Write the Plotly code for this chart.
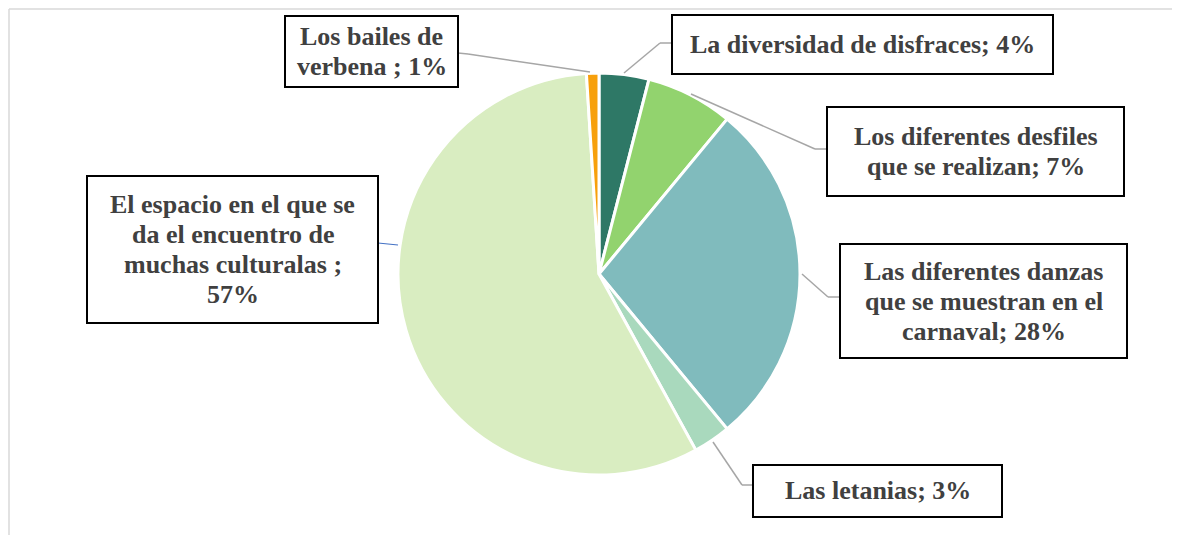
import plotly.graph_objects as go

W, H = 1180, 535
# the page body has an 8px margin, so the figure starts at (8, 8) in the window
OX, OY = 8, 8

# slices, clockwise from 12 o'clock
LABELS = [
    'La diversidad de disfraces',
    'Los diferentes desfiles que se realizan',
    'Las diferentes danzas que se muestran en el carnaval',
    'Las letanias',
    'El espacio en el que se da el encuentro de muchas culturalas ',
    'Los bailes de verbena ',
]
LABEL_LINES = [
    ['La diversidad de disfraces; {}%'],
    ['Los diferentes desfiles', 'que se realizan; {}%'],
    ['Las diferentes danzas', 'que se muestran en el', 'carnaval; {}%'],
    ['Las letanias; {}%'],
    ['El espacio en el que se', 'da el encuentro de', 'muchas culturalas ;', '{}%'],
    ['Los bailes de', 'verbena ; {}%'],
]
VALUES = [4, 7, 28, 3, 57, 1]

COLORS = ['#2E7866', '#92D36E', '#80BBBD', '#A9D9BD', '#D9EDC1', '#F7A00C']

# label boxes in window pixels (x0, y0, x1, y1)
BOXES = [
    (672, 15, 1053, 74),
    (827, 107, 1124, 196),
    (840, 244, 1127, 358),
    (753, 465, 1002, 517),
    (87, 176, 378, 323),
    (285, 16, 458, 87),
]
# leader lines in window pixels
LEADERS = [
    [(672, 43), (660, 43), (624, 73)],
    [(827, 149), (815, 149), (691, 94)],
    [(840, 297), (828, 297), (802, 274)],
    [(753, 485), (742, 485), (713, 442)],
    [(378, 243), (398, 245)],
    [(458, 53), (468, 54), (590, 72)],
]
LEADER_COLORS = ['#A6A6A6', '#A6A6A6', '#A6A6A6', '#A6A6A6', '#4472C4', '#A6A6A6']
LINE_STEP = 30


def px(x):
    return (x - OX) / W


def py(y):
    return 1 - (y - OY) / H


CX, CY, R = 599, 274, 201

fig = go.Figure()

fig.add_trace(go.Pie(
    labels=LABELS,
    values=VALUES,
    sort=False,
    direction='clockwise',
    rotation=0,
    textinfo='none',
    hoverinfo='label+percent',
    marker=dict(colors=COLORS, line=dict(color='white', width=3)),
    domain=dict(x=[px(CX - 300), px(CX + 300)], y=[py(CY + R), py(CY - R)]),
    showlegend=False,
))

shapes = [
    # chart area border (only top and left visible)
    dict(type='line', xref='paper', yref='paper', x0=px(9), y0=py(9), x1=px(W + 20), y1=py(9),
         line=dict(color='#D9D9D9', width=1.5)),
    dict(type='line', xref='paper', yref='paper', x0=px(9), y0=py(9), x1=px(9), y1=py(H + 20),
         line=dict(color='#D9D9D9', width=1.5)),
]
for pts, col in zip(LEADERS, LEADER_COLORS):
    for (xa, ya), (xb, yb) in zip(pts[:-1], pts[1:]):
        shapes.append(dict(type='line', xref='paper', yref='paper',
                           x0=px(xa), y0=py(ya), x1=px(xb), y1=py(yb),
                           line=dict(color=col, width=1.5 if col != '#4472C4' else 1.2)))

annotations = []
for lines, v, (x0, y0, x1, y1) in zip(LABEL_LINES, VALUES, BOXES):
    shapes.append(dict(type='rect', xref='paper', yref='paper',
                       x0=px(x0), y0=py(y0), x1=px(x1), y1=py(y1),
                       fillcolor='white', line=dict(color='black', width=2)))
    n = len(lines)
    yc = (y0 + y1) / 2
    for i, ln in enumerate(lines):
        annotations.append(dict(
            x=px((x0 + x1) / 2), y=py(yc + (i - (n - 1) / 2) * LINE_STEP),
            xref='paper', yref='paper', xanchor='center', yanchor='middle',
            text=ln.format(v), showarrow=False,
            font=dict(family='Liberation Serif', size=26, color='#404040', weight='bold'),
        ))

fig.update_layout(
    width=W, height=H,
    margin=dict(l=0, r=0, t=0, b=0),
    paper_bgcolor='white',
    plot_bgcolor='white',
    shapes=shapes,
    annotations=annotations,
)

fig.write_html('out.html')
